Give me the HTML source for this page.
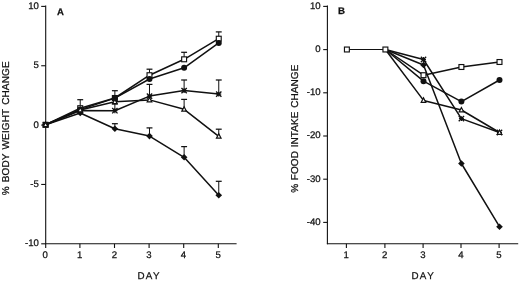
<!DOCTYPE html>
<html><head><meta charset="utf-8"><title>Figure</title>
<style>
html,body{margin:0;padding:0;background:#fff;}
body{width:520px;height:281px;overflow:hidden;font-family:"Liberation Sans",sans-serif;}
svg{display:block;will-change:transform;}
svg text{font-family:"Liberation Sans",sans-serif;fill:#111;stroke:#111;stroke-width:0.25px;text-rendering:geometricPrecision;}
</style></head><body>
<svg width="520" height="281" viewBox="0 0 520 281">
<rect width="520" height="281" fill="#fff"/>
<line x1="45.7" y1="5.5" x2="45.7" y2="248" stroke="#111" stroke-width="1.1" stroke-linecap="butt"/>
<line x1="45.2" y1="243.8" x2="236.6" y2="243.8" stroke="#111" stroke-width="1.1" stroke-linecap="butt"/>
<line x1="41.2" y1="6.4" x2="45.7" y2="6.4" stroke="#111" stroke-width="1.1" stroke-linecap="butt"/>
<text x="38.9" y="8.8" font-size="9.6" text-anchor="end" font-weight="normal">10</text>
<line x1="41.2" y1="65.75" x2="45.7" y2="65.75" stroke="#111" stroke-width="1.1" stroke-linecap="butt"/>
<text x="38.9" y="68.15" font-size="9.6" text-anchor="end" font-weight="normal">5</text>
<line x1="41.2" y1="125.1" x2="45.7" y2="125.1" stroke="#111" stroke-width="1.1" stroke-linecap="butt"/>
<text x="38.9" y="127.5" font-size="9.6" text-anchor="end" font-weight="normal">0</text>
<line x1="41.2" y1="184.45" x2="45.7" y2="184.45" stroke="#111" stroke-width="1.1" stroke-linecap="butt"/>
<text x="38.9" y="186.85" font-size="9.6" text-anchor="end" font-weight="normal">-5</text>
<line x1="41.2" y1="243.8" x2="45.7" y2="243.8" stroke="#111" stroke-width="1.1" stroke-linecap="butt"/>
<text x="38.9" y="246.2" font-size="9.6" text-anchor="end" font-weight="normal">-10</text>
<text x="45.1" y="258.1" font-size="9.6" text-anchor="middle" font-weight="normal">0</text>
<line x1="79.9" y1="243.8" x2="79.9" y2="248" stroke="#111" stroke-width="1.1" stroke-linecap="butt"/>
<text x="79.7" y="258.1" font-size="9.6" text-anchor="middle" font-weight="normal">1</text>
<line x1="114.5" y1="243.8" x2="114.5" y2="248" stroke="#111" stroke-width="1.1" stroke-linecap="butt"/>
<text x="114.3" y="258.1" font-size="9.6" text-anchor="middle" font-weight="normal">2</text>
<line x1="149.1" y1="243.8" x2="149.1" y2="248" stroke="#111" stroke-width="1.1" stroke-linecap="butt"/>
<text x="148.9" y="258.1" font-size="9.6" text-anchor="middle" font-weight="normal">3</text>
<line x1="183.7" y1="243.8" x2="183.7" y2="248" stroke="#111" stroke-width="1.1" stroke-linecap="butt"/>
<text x="183.5" y="258.1" font-size="9.6" text-anchor="middle" font-weight="normal">4</text>
<line x1="218.3" y1="243.8" x2="218.3" y2="248" stroke="#111" stroke-width="1.1" stroke-linecap="butt"/>
<text x="218.1" y="258.1" font-size="9.6" text-anchor="middle" font-weight="normal">5</text>
<text x="137.4 145.8 153.1" y="278.6" font-size="9.8">DAY</text>
<text x="9.3" y="195.3" font-size="10.0" text-anchor="start" font-weight="normal" letter-spacing="0.12" word-spacing="1.2" transform="rotate(-90 9.3 195.3)">% BODY WEIGHT CHANGE</text>
<text x="57" y="15.2" font-size="9.5" text-anchor="start" font-weight="bold" textLength="6.9" lengthAdjust="spacingAndGlyphs">A</text>
<polyline points="45.6,124.8 80.23,113 114.86,128.8 149.49,136.1 184.12,157.3 218.75,195.3" fill="none" stroke="#111" stroke-width="1.5" stroke-linejoin="round"/>
<polyline points="45.6,124.8 80.23,110.6 114.86,110.7 149.49,96.1 184.12,90.6 218.75,94.1" fill="none" stroke="#111" stroke-width="1.5" stroke-linejoin="round"/>
<polyline points="45.6,124.8 80.23,109.9 114.86,101.8 149.49,99.9 184.12,109.3 218.75,136.3" fill="none" stroke="#111" stroke-width="1.5" stroke-linejoin="round"/>
<polyline points="45.6,124.8 80.23,109.6 114.86,98.1 149.49,79 184.12,67.8 218.75,42.9" fill="none" stroke="#111" stroke-width="1.5" stroke-linejoin="round"/>
<polyline points="45.6,124.8 80.23,108.2 114.86,98 149.49,75.2 184.12,59.3 218.75,38.7" fill="none" stroke="#111" stroke-width="1.5" stroke-linejoin="round"/>
<line x1="80.23" y1="108.2" x2="80.23" y2="99.7" stroke="#111" stroke-width="1.0" stroke-linecap="butt"/>
<line x1="77.28" y1="99.7" x2="83.18" y2="99.7" stroke="#111" stroke-width="1.25" stroke-linecap="butt"/>
<line x1="114.86" y1="98.1" x2="114.86" y2="90.7" stroke="#111" stroke-width="1.0" stroke-linecap="butt"/>
<line x1="111.91" y1="90.7" x2="117.81" y2="90.7" stroke="#111" stroke-width="1.25" stroke-linecap="butt"/>
<line x1="114.86" y1="110.7" x2="114.86" y2="104" stroke="#111" stroke-width="1.0" stroke-linecap="butt"/>
<line x1="111.91" y1="104" x2="117.81" y2="104" stroke="#111" stroke-width="1.25" stroke-linecap="butt"/>
<line x1="114.86" y1="128.8" x2="114.86" y2="123.7" stroke="#111" stroke-width="1.0" stroke-linecap="butt"/>
<line x1="111.91" y1="123.7" x2="117.81" y2="123.7" stroke="#111" stroke-width="1.25" stroke-linecap="butt"/>
<line x1="149.49" y1="75.2" x2="149.49" y2="69.2" stroke="#111" stroke-width="1.0" stroke-linecap="butt"/>
<line x1="146.54" y1="69.2" x2="152.44" y2="69.2" stroke="#111" stroke-width="1.25" stroke-linecap="butt"/>
<line x1="149.49" y1="96.1" x2="149.49" y2="84.4" stroke="#111" stroke-width="1.0" stroke-linecap="butt"/>
<line x1="146.54" y1="84.4" x2="152.44" y2="84.4" stroke="#111" stroke-width="1.25" stroke-linecap="butt"/>
<line x1="149.49" y1="136.1" x2="149.49" y2="127.9" stroke="#111" stroke-width="1.0" stroke-linecap="butt"/>
<line x1="146.54" y1="127.9" x2="152.44" y2="127.9" stroke="#111" stroke-width="1.25" stroke-linecap="butt"/>
<line x1="184.12" y1="59.3" x2="184.12" y2="52.3" stroke="#111" stroke-width="1.0" stroke-linecap="butt"/>
<line x1="181.17" y1="52.3" x2="187.07" y2="52.3" stroke="#111" stroke-width="1.25" stroke-linecap="butt"/>
<line x1="184.12" y1="90.6" x2="184.12" y2="80" stroke="#111" stroke-width="1.0" stroke-linecap="butt"/>
<line x1="181.17" y1="80" x2="187.07" y2="80" stroke="#111" stroke-width="1.25" stroke-linecap="butt"/>
<line x1="184.12" y1="109.3" x2="184.12" y2="99.4" stroke="#111" stroke-width="1.0" stroke-linecap="butt"/>
<line x1="181.17" y1="99.4" x2="187.07" y2="99.4" stroke="#111" stroke-width="1.25" stroke-linecap="butt"/>
<line x1="184.12" y1="157.3" x2="184.12" y2="146.6" stroke="#111" stroke-width="1.0" stroke-linecap="butt"/>
<line x1="181.17" y1="146.6" x2="187.07" y2="146.6" stroke="#111" stroke-width="1.25" stroke-linecap="butt"/>
<line x1="218.75" y1="38.7" x2="218.75" y2="31.9" stroke="#111" stroke-width="1.0" stroke-linecap="butt"/>
<line x1="215.8" y1="31.9" x2="221.7" y2="31.9" stroke="#111" stroke-width="1.25" stroke-linecap="butt"/>
<line x1="218.75" y1="94.1" x2="218.75" y2="80" stroke="#111" stroke-width="1.0" stroke-linecap="butt"/>
<line x1="215.8" y1="80" x2="221.7" y2="80" stroke="#111" stroke-width="1.25" stroke-linecap="butt"/>
<line x1="218.75" y1="136.3" x2="218.75" y2="129.2" stroke="#111" stroke-width="1.0" stroke-linecap="butt"/>
<line x1="215.8" y1="129.2" x2="221.7" y2="129.2" stroke="#111" stroke-width="1.25" stroke-linecap="butt"/>
<line x1="218.75" y1="195.3" x2="218.75" y2="181.3" stroke="#111" stroke-width="1.0" stroke-linecap="butt"/>
<line x1="215.8" y1="181.3" x2="221.7" y2="181.3" stroke="#111" stroke-width="1.25" stroke-linecap="butt"/>
<polygon points="45.6,121.5 48.9,124.8 45.6,128.1 42.3,124.8" fill="#111"/>
<line x1="42.93" y1="122.13" x2="48.27" y2="127.47" stroke="#111" stroke-width="1.3" stroke-linecap="butt"/>
<line x1="42.93" y1="127.47" x2="48.27" y2="122.13" stroke="#111" stroke-width="1.3" stroke-linecap="butt"/>
<line x1="43.14" y1="124.8" x2="48.06" y2="124.8" stroke="#111" stroke-width="1.2" stroke-linecap="butt"/>
<line x1="45.6" y1="122.33" x2="45.6" y2="127.27" stroke="#111" stroke-width="1.2" stroke-linecap="butt"/>
<rect x="44.3" y="123.5" width="2.6" height="2.6" fill="#111"/>
<rect x="43.15" y="122.35" width="4.9" height="4.9" fill="#fff" stroke="#111" stroke-width="1.15"/>
<circle cx="45.6" cy="124.8" r="3.0" fill="#111"/>
<polygon points="45.6,122.3 47.9,126.7 43.3,126.7" fill="#fff" stroke="#111" stroke-width="1.2" stroke-linejoin="miter"/>
<polygon points="80.23,109.7 83.53,113 80.23,116.3 76.93,113" fill="#111"/>
<line x1="77.56" y1="107.93" x2="82.9" y2="113.27" stroke="#111" stroke-width="1.3" stroke-linecap="butt"/>
<line x1="77.56" y1="113.27" x2="82.9" y2="107.93" stroke="#111" stroke-width="1.3" stroke-linecap="butt"/>
<line x1="77.77" y1="110.6" x2="82.7" y2="110.6" stroke="#111" stroke-width="1.2" stroke-linecap="butt"/>
<line x1="80.23" y1="108.13" x2="80.23" y2="113.06" stroke="#111" stroke-width="1.2" stroke-linecap="butt"/>
<rect x="78.93" y="109.3" width="2.6" height="2.6" fill="#111"/>
<rect x="77.78" y="105.75" width="4.9" height="4.9" fill="#fff" stroke="#111" stroke-width="1.15"/>
<circle cx="80.23" cy="109.6" r="3.0" fill="#111"/>
<polygon points="80.23,107.4 82.53,111.8 77.93,111.8" fill="#fff" stroke="#111" stroke-width="1.2" stroke-linejoin="miter"/>
<polygon points="114.86,125.5 118.16,128.8 114.86,132.1 111.56,128.8" fill="#111"/>
<line x1="112.19" y1="108.03" x2="117.53" y2="113.37" stroke="#111" stroke-width="1.3" stroke-linecap="butt"/>
<line x1="112.19" y1="113.37" x2="117.53" y2="108.03" stroke="#111" stroke-width="1.3" stroke-linecap="butt"/>
<line x1="112.4" y1="110.7" x2="117.33" y2="110.7" stroke="#111" stroke-width="1.2" stroke-linecap="butt"/>
<line x1="114.86" y1="108.23" x2="114.86" y2="113.17" stroke="#111" stroke-width="1.2" stroke-linecap="butt"/>
<rect x="113.56" y="109.4" width="2.6" height="2.6" fill="#111"/>
<rect x="112.41" y="95.55" width="4.9" height="4.9" fill="#fff" stroke="#111" stroke-width="1.15"/>
<circle cx="114.86" cy="98.1" r="3.0" fill="#111"/>
<polygon points="114.86,99.3 117.16,103.7 112.56,103.7" fill="#fff" stroke="#111" stroke-width="1.2" stroke-linejoin="miter"/>
<polygon points="149.49,132.8 152.79,136.1 149.49,139.4 146.19,136.1" fill="#111"/>
<line x1="146.82" y1="93.43" x2="152.16" y2="98.77" stroke="#111" stroke-width="1.3" stroke-linecap="butt"/>
<line x1="146.82" y1="98.77" x2="152.16" y2="93.43" stroke="#111" stroke-width="1.3" stroke-linecap="butt"/>
<line x1="147.03" y1="96.1" x2="151.96" y2="96.1" stroke="#111" stroke-width="1.2" stroke-linecap="butt"/>
<line x1="149.49" y1="93.63" x2="149.49" y2="98.56" stroke="#111" stroke-width="1.2" stroke-linecap="butt"/>
<rect x="148.19" y="94.8" width="2.6" height="2.6" fill="#111"/>
<rect x="147.04" y="72.75" width="4.9" height="4.9" fill="#fff" stroke="#111" stroke-width="1.15"/>
<circle cx="149.49" cy="79" r="3.0" fill="#111"/>
<polygon points="149.49,97.4 151.79,101.8 147.19,101.8" fill="#fff" stroke="#111" stroke-width="1.2" stroke-linejoin="miter"/>
<polygon points="184.12,154 187.42,157.3 184.12,160.6 180.82,157.3" fill="#111"/>
<line x1="181.45" y1="87.93" x2="186.79" y2="93.27" stroke="#111" stroke-width="1.3" stroke-linecap="butt"/>
<line x1="181.45" y1="93.27" x2="186.79" y2="87.93" stroke="#111" stroke-width="1.3" stroke-linecap="butt"/>
<line x1="181.66" y1="90.6" x2="186.59" y2="90.6" stroke="#111" stroke-width="1.2" stroke-linecap="butt"/>
<line x1="184.12" y1="88.13" x2="184.12" y2="93.06" stroke="#111" stroke-width="1.2" stroke-linecap="butt"/>
<rect x="182.82" y="89.3" width="2.6" height="2.6" fill="#111"/>
<rect x="181.67" y="56.85" width="4.9" height="4.9" fill="#fff" stroke="#111" stroke-width="1.15"/>
<circle cx="184.12" cy="67.8" r="3.0" fill="#111"/>
<polygon points="184.12,106.8 186.42,111.2 181.82,111.2" fill="#fff" stroke="#111" stroke-width="1.2" stroke-linejoin="miter"/>
<polygon points="218.75,192 222.05,195.3 218.75,198.6 215.45,195.3" fill="#111"/>
<line x1="216.08" y1="91.43" x2="221.42" y2="96.77" stroke="#111" stroke-width="1.3" stroke-linecap="butt"/>
<line x1="216.08" y1="96.77" x2="221.42" y2="91.43" stroke="#111" stroke-width="1.3" stroke-linecap="butt"/>
<line x1="216.28" y1="94.1" x2="221.22" y2="94.1" stroke="#111" stroke-width="1.2" stroke-linecap="butt"/>
<line x1="218.75" y1="91.63" x2="218.75" y2="96.56" stroke="#111" stroke-width="1.2" stroke-linecap="butt"/>
<rect x="217.45" y="92.8" width="2.6" height="2.6" fill="#111"/>
<rect x="216.3" y="36.25" width="4.9" height="4.9" fill="#fff" stroke="#111" stroke-width="1.15"/>
<circle cx="218.75" cy="42.9" r="3.0" fill="#111"/>
<polygon points="218.75,133.8 221.05,138.2 216.45,138.2" fill="#fff" stroke="#111" stroke-width="1.2" stroke-linejoin="miter"/>
<line x1="327.4" y1="5.6" x2="327.4" y2="244.3" stroke="#111" stroke-width="1.1" stroke-linecap="butt"/>
<line x1="326.9" y1="243.8" x2="518.2" y2="243.8" stroke="#111" stroke-width="1.1" stroke-linecap="butt"/>
<line x1="323.2" y1="6.4" x2="327.4" y2="6.4" stroke="#111" stroke-width="1.1" stroke-linecap="butt"/>
<text x="320.6" y="8.8" font-size="9.6" text-anchor="end" font-weight="normal">10</text>
<line x1="323.2" y1="49.6" x2="327.4" y2="49.6" stroke="#111" stroke-width="1.1" stroke-linecap="butt"/>
<text x="320.6" y="52" font-size="9.6" text-anchor="end" font-weight="normal">0</text>
<line x1="323.2" y1="92.8" x2="327.4" y2="92.8" stroke="#111" stroke-width="1.1" stroke-linecap="butt"/>
<text x="320.6" y="95.2" font-size="9.6" text-anchor="end" font-weight="normal">-10</text>
<line x1="323.2" y1="136" x2="327.4" y2="136" stroke="#111" stroke-width="1.1" stroke-linecap="butt"/>
<text x="320.6" y="138.4" font-size="9.6" text-anchor="end" font-weight="normal">-20</text>
<line x1="323.2" y1="179.2" x2="327.4" y2="179.2" stroke="#111" stroke-width="1.1" stroke-linecap="butt"/>
<text x="320.6" y="181.6" font-size="9.6" text-anchor="end" font-weight="normal">-30</text>
<line x1="323.2" y1="222.4" x2="327.4" y2="222.4" stroke="#111" stroke-width="1.1" stroke-linecap="butt"/>
<text x="320.6" y="224.8" font-size="9.6" text-anchor="end" font-weight="normal">-40</text>
<line x1="346.4" y1="243.8" x2="346.4" y2="248" stroke="#111" stroke-width="1.1" stroke-linecap="butt"/>
<text x="346.2" y="258.1" font-size="9.6" text-anchor="middle" font-weight="normal">1</text>
<line x1="384.9" y1="243.8" x2="384.9" y2="248" stroke="#111" stroke-width="1.1" stroke-linecap="butt"/>
<text x="384.7" y="258.1" font-size="9.6" text-anchor="middle" font-weight="normal">2</text>
<line x1="423.1" y1="243.8" x2="423.1" y2="248" stroke="#111" stroke-width="1.1" stroke-linecap="butt"/>
<text x="422.9" y="258.1" font-size="9.6" text-anchor="middle" font-weight="normal">3</text>
<line x1="461" y1="243.8" x2="461" y2="248" stroke="#111" stroke-width="1.1" stroke-linecap="butt"/>
<text x="460.8" y="258.1" font-size="9.6" text-anchor="middle" font-weight="normal">4</text>
<line x1="499.1" y1="243.8" x2="499.1" y2="248" stroke="#111" stroke-width="1.1" stroke-linecap="butt"/>
<text x="498.9" y="258.1" font-size="9.6" text-anchor="middle" font-weight="normal">5</text>
<text x="411.5 419.8 427.2" y="278.9" font-size="9.8">DAY</text>
<text x="298.4" y="192.8" font-size="10.0" text-anchor="start" font-weight="normal" letter-spacing="0.08" word-spacing="0.8" transform="rotate(-90 298.4 192.8)">% FOOD INTAKE CHANGE</text>
<text x="338.1" y="14.1" font-size="9.5" text-anchor="start" font-weight="bold" textLength="7.0" lengthAdjust="spacingAndGlyphs">B</text>
<line x1="346.9" y1="49.5" x2="385.4" y2="49.5" stroke="#111" stroke-width="1.15" stroke-linecap="butt"/>
<polyline points="385.4,49.5 423.5,65 461.4,163.5 499.5,226.7" fill="none" stroke="#111" stroke-width="1.5" stroke-linejoin="round"/>
<polyline points="385.4,49.5 423.5,59.5 461.4,118.6 499.5,132.5" fill="none" stroke="#111" stroke-width="1.5" stroke-linejoin="round"/>
<polyline points="385.4,49.5 423.5,100.4 461.4,110 499.5,132.5" fill="none" stroke="#111" stroke-width="1.5" stroke-linejoin="round"/>
<polyline points="385.4,49.5 423.5,81.2 461.4,101.6 499.5,80" fill="none" stroke="#111" stroke-width="1.5" stroke-linejoin="round"/>
<polyline points="385.4,49.5 423.5,75.2 461.4,67 499.5,62" fill="none" stroke="#111" stroke-width="1.5" stroke-linejoin="round"/>
<rect x="344.45" y="47.05" width="4.9" height="4.9" fill="#fff" stroke="#111" stroke-width="1.15"/>
<rect x="382.95" y="47.05" width="4.9" height="4.9" fill="#fff" stroke="#111" stroke-width="1.15"/>
<polygon points="423.5,61.7 426.8,65 423.5,68.3 420.2,65" fill="#111"/>
<line x1="420.83" y1="56.83" x2="426.17" y2="62.17" stroke="#111" stroke-width="1.3" stroke-linecap="butt"/>
<line x1="420.83" y1="62.17" x2="426.17" y2="56.83" stroke="#111" stroke-width="1.3" stroke-linecap="butt"/>
<line x1="421.04" y1="59.5" x2="425.96" y2="59.5" stroke="#111" stroke-width="1.2" stroke-linecap="butt"/>
<line x1="423.5" y1="57.03" x2="423.5" y2="61.97" stroke="#111" stroke-width="1.2" stroke-linecap="butt"/>
<rect x="422.2" y="58.2" width="2.6" height="2.6" fill="#111"/>
<circle cx="423.5" cy="81.2" r="3.0" fill="#111"/>
<polygon points="423.5,97.9 425.8,102.3 421.2,102.3" fill="#fff" stroke="#111" stroke-width="1.2" stroke-linejoin="miter"/>
<rect x="421.05" y="72.75" width="4.9" height="4.9" fill="#fff" stroke="#111" stroke-width="1.15"/>
<polygon points="461.4,160.2 464.7,163.5 461.4,166.8 458.1,163.5" fill="#111"/>
<line x1="458.73" y1="115.93" x2="464.07" y2="121.27" stroke="#111" stroke-width="1.3" stroke-linecap="butt"/>
<line x1="458.73" y1="121.27" x2="464.07" y2="115.93" stroke="#111" stroke-width="1.3" stroke-linecap="butt"/>
<line x1="458.94" y1="118.6" x2="463.86" y2="118.6" stroke="#111" stroke-width="1.2" stroke-linecap="butt"/>
<line x1="461.4" y1="116.13" x2="461.4" y2="121.06" stroke="#111" stroke-width="1.2" stroke-linecap="butt"/>
<rect x="460.1" y="117.3" width="2.6" height="2.6" fill="#111"/>
<circle cx="461.4" cy="101.6" r="3.0" fill="#111"/>
<polygon points="461.4,107.5 463.7,111.9 459.1,111.9" fill="#fff" stroke="#111" stroke-width="1.2" stroke-linejoin="miter"/>
<rect x="458.95" y="64.55" width="4.9" height="4.9" fill="#fff" stroke="#111" stroke-width="1.15"/>
<polygon points="499.5,223.4 502.8,226.7 499.5,230 496.2,226.7" fill="#111"/>
<line x1="496.83" y1="129.83" x2="502.17" y2="135.17" stroke="#111" stroke-width="1.3" stroke-linecap="butt"/>
<line x1="496.83" y1="135.17" x2="502.17" y2="129.83" stroke="#111" stroke-width="1.3" stroke-linecap="butt"/>
<line x1="497.04" y1="132.5" x2="501.96" y2="132.5" stroke="#111" stroke-width="1.2" stroke-linecap="butt"/>
<line x1="499.5" y1="130.03" x2="499.5" y2="134.97" stroke="#111" stroke-width="1.2" stroke-linecap="butt"/>
<rect x="498.2" y="131.2" width="2.6" height="2.6" fill="#111"/>
<circle cx="499.5" cy="80" r="3.0" fill="#111"/>
<polygon points="499.5,130 501.8,134.4 497.2,134.4" fill="#fff" stroke="#111" stroke-width="1.2" stroke-linejoin="miter"/>
<rect x="497.05" y="59.55" width="4.9" height="4.9" fill="#fff" stroke="#111" stroke-width="1.15"/>
</svg>
</body></html>
